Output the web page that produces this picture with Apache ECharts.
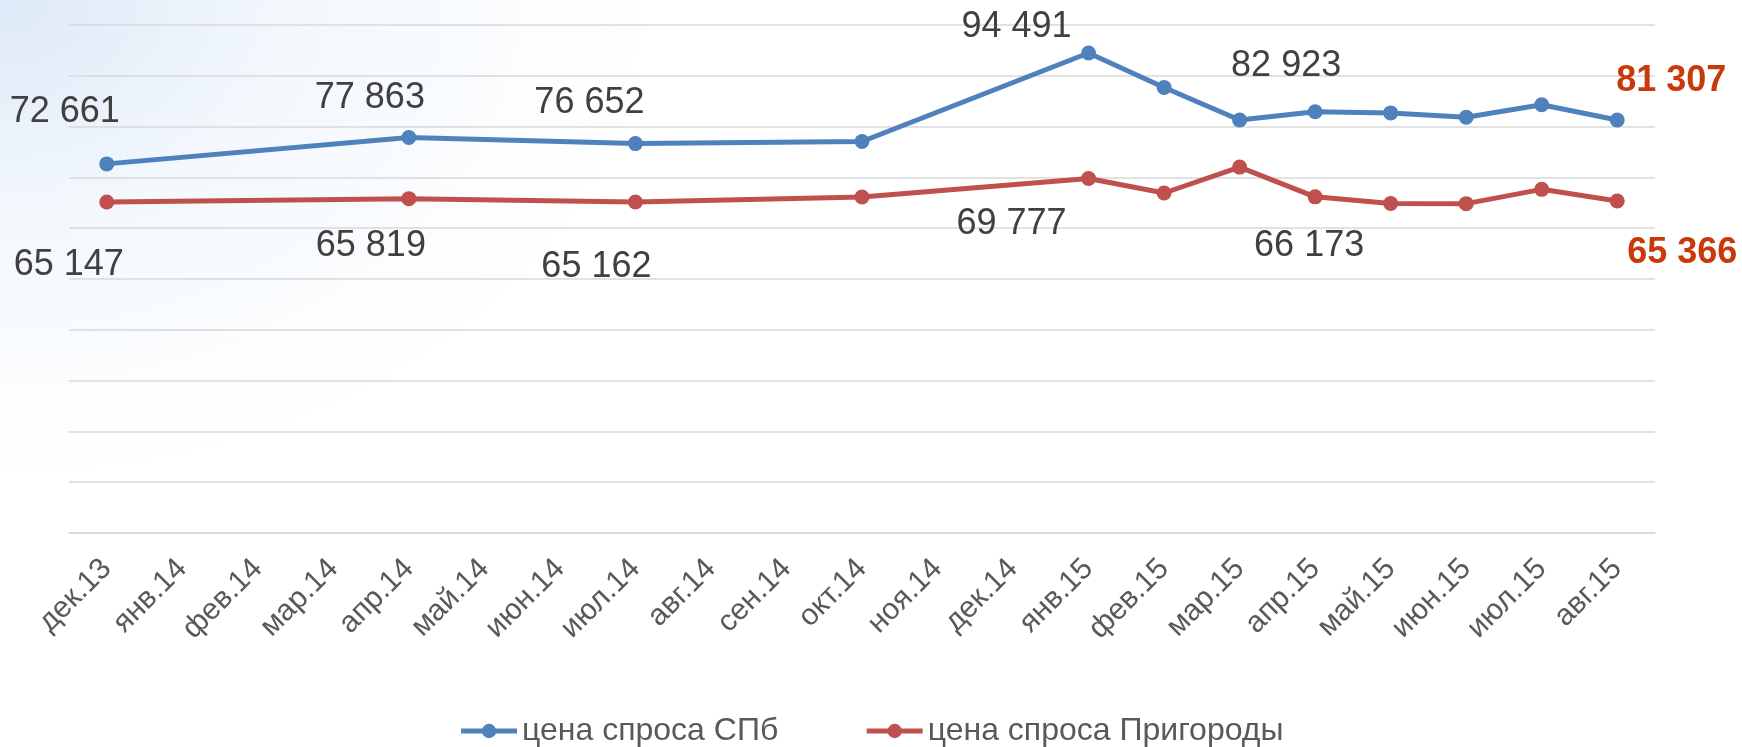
<!DOCTYPE html>
<html>
<head>
<meta charset="utf-8">
<style>
  html, body { margin: 0; padding: 0; }
  body {
    width: 1742px; height: 747px; overflow: hidden;
    background: radial-gradient(ellipse 650px 480px at 0 0, #dde9f7 0%, #f3f8fd 45%, #ffffff 100%);
  }
  #chart { width: 1742px; height: 747px; }
</style>
<script src="https://cdn.jsdelivr.net/npm/echarts@6/dist/echarts.min.js"></script>
</head>
<body>
<div id="chart"></div>
<script>
  // months on the x axis
  var months = ['дек.13', 'янв.14', 'фев.14', 'мар.14', 'апр.14', 'май.14', 'июн.14',
    'июл.14', 'авг.14', 'сен.14', 'окт.14', 'ноя.14', 'дек.14', 'янв.15', 'фев.15',
    'мар.15', 'апр.15', 'май.15', 'июн.15', 'июл.15', 'авг.15'];

  // prices, null where there was no measurement
  var spbPrice = [72661, null, null, null, 77863, null, null, 76652, null, null, 77060,
    null, null, 94491, 87700, 81300, 82923, 82700, 81850, 84300, 81307];
  var suburbPrice = [65147, null, null, null, 65819, null, null, 65162, null, null, 66140,
    null, null, 69777, 66930, 72030, 66173, 64850, 64830, 67650, 65366];

  var seriesNames = ['цена спроса СПб', 'цена спроса Пригороды'];

  // which points carry a value label, and where the text sits relative to the point
  var spbLabelOffsets = { 0: [-42, -52], 4: [-39, -39], 7: [-46, -41], 13: [-72, -26], 16: [-29, -46], 20: [54, -39] };
  var suburbLabelOffsets = { 0: [-38, 63], 4: [-38, 47], 7: [-39, 65], 13: [-77, 46], 16: [-6, 49], 20: [65, 52] };
  var lastIndex = months.length - 1;

  function fmt(v) {
    return String(v).replace(/\B(?=(\d{3})+(?!\d))/g, ' ');
  }

  function buildData(values, offsets) {
    return values.map(function (v, i) {
      if (v === null) return null;
      var item = { value: v };
      if (offsets[i]) {
        item.label = {
          show: true,
          position: 'inside',
          offset: offsets[i],
          formatter: function (p) { return fmt(p.value); },
          fontSize: 36,
          fontFamily: 'Liberation Sans, Arial, sans-serif',
          color: '#404040'
        };
        if (i === lastIndex) {
          item.label.fontWeight = 'bold';
          item.label.color = '#c9390c';
        }
      }
      return item;
    });
  }

  var chart = echarts.init(document.getElementById('chart'));

  chart.setOption({
    backgroundColor: 'transparent',
    animation: false,
    textStyle: { fontFamily: 'Liberation Sans, Arial, sans-serif' },
    grid: {
      left: 69,
      right: 87,
      top: 25,
      bottom: 214
    },
    legend: {
      top: 710,
      left: 'center',
      itemWidth: 56,
      itemHeight: 18,
      itemGap: 86,
      lineStyle: { width: 5 },
      textStyle: { fontSize: 32, color: '#595959' },
      data: seriesNames
    },
    xAxis: {
      type: 'category',
      data: months,
      boundaryGap: true,
      axisLine: { lineStyle: { color: '#d9d9d9', width: 1.5 } },
      axisTick: { show: false },
      axisLabel: {
        rotate: 45,
        interval: 0,
        fontSize: 30,
        color: '#595959',
        margin: 31,
        padding: [0, 0, 0, 0]
      }
    },
    yAxis: {
      type: 'value',
      min: 0,
      max: 100000,
      interval: 10000,
      axisLine: { show: false },
      axisTick: { show: false },
      axisLabel: { show: false },
      splitLine: { lineStyle: { color: '#d9d9d9', width: 1.5 } }
    },
    series: [
      {
        name: seriesNames[0],
        type: 'line',
        connectNulls: true,
        symbol: 'circle',
        symbolSize: 15,
        color: '#4f81bd',
        lineStyle: { width: 5, color: '#4f81bd' },
        itemStyle: { color: '#4f81bd' },
        data: buildData(spbPrice, spbLabelOffsets)
      },
      {
        name: seriesNames[1],
        type: 'line',
        connectNulls: true,
        symbol: 'circle',
        symbolSize: 15,
        color: '#c0504d',
        lineStyle: { width: 5, color: '#c0504d' },
        itemStyle: { color: '#c0504d' },
        data: buildData(suburbPrice, suburbLabelOffsets)
      }
    ]
  });
</script>
</body>
</html>
